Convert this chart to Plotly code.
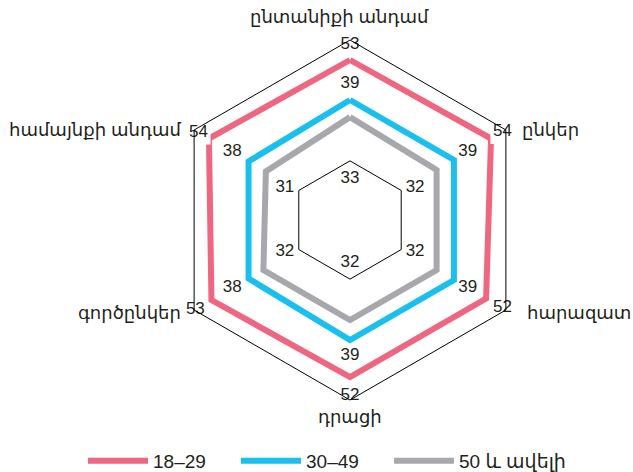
import math
import plotly.graph_objects as go

categories = ["ընտանիքի անդամ", "ընկեր", "հարազատ", "դրացի", "գործընկեր", "համայնքի անդամ"]
series_names = ["18–29", "30–49", "50 և ավելի"]
values_18_29 = [53, 54, 52, 52, 53, 54]
values_30_49 = [39, 39, 39, 39, 38, 38]
values_50_plus = [33, 32, 32, 32, 32, 31]

colors = ["#EF6680", "#19BFEF", "#A7A8AB"]
FONT = "Liberation Sans, Arial, DejaVu Sans, sans-serif"
TXT = "#231F20"

W, H = 633, 472
cx, cy, R = 350, 220, 180
RMIN, RMAX = -3, 60

def close(v):
    return list(v) + [v[0]]

fig = go.Figure()
legend_widths = [78, 78, 110]
for name, vals, col, lw in zip(series_names, [values_18_29, values_30_49, values_50_plus], colors, legend_widths):
    fig.add_trace(go.Scatterpolar(
        r=close(vals), theta=close(categories), mode="lines", name=name,
        line=dict(color=col, width=6), hoverinfo="skip", legendwidth=lw))

# value labels
pink_r = [58.2, 58.6, 58.6, 58.6, 59.5, 58.2]
fig.add_trace(go.Scatterpolar(
    r=pink_r, theta=categories, mode="markers+text",
    text=[str(v) for v in values_18_29], textposition="middle center",
    marker=dict(symbol="square", color="white", size=24, line=dict(width=0)),
    textfont=dict(size=17, color=TXT, family=FONT), showlegend=False, hoverinfo="skip"))
blue_r = 44.6
fig.add_trace(go.Scatterpolar(
    r=[blue_r] * 6, theta=categories, mode="text",
    text=[str(v) for v in values_30_49], textposition="middle center",
    textfont=dict(size=17, color=TXT, family=FONT), showlegend=False, hoverinfo="skip"))
gray_r = [11.6, 19.5, 19.5, 11.9, 19.5, 19.5]
gray_pos = ["middle center", "middle right", "middle right", "middle center", "middle left", "middle left"]
fig.add_trace(go.Scatterpolar(
    r=gray_r, theta=categories, mode="text",
    text=[str(v) for v in values_50_plus], textposition=gray_pos,
    textfont=dict(size=17, color=TXT, family=FONT), showlegend=False, hoverinfo="skip"))

# category labels placed next to the polygon vertices
label_gap = [(-11, -23), (14, 0), (19, 3), (0, 17), (-11, 3), (-11, 0)]
anchors = [("center", "middle"), ("left", "middle"), ("left", "middle"),
           ("center", "middle"), ("right", "middle"), ("right", "middle")]
annotations = []
for i, cat in enumerate(categories):
    ang = math.radians(90 - 60 * i)
    vx = cx + R * math.cos(ang)
    vy = cy - R * math.sin(ang)
    dx, dy = label_gap[i]
    xa, ya = anchors[i]
    annotations.append(dict(
        text=cat, x=(vx + dx) / W, y=1 - (vy + dy) / H, xref="paper", yref="paper",
        xanchor=xa, yanchor=ya, showarrow=False, font=dict(size=18, color=TXT, family=FONT)))

fig.update_layout(
    width=W, height=H,
    margin=dict(l=0, r=0, t=0, b=0, autoexpand=False),
    paper_bgcolor="white", plot_bgcolor="white",
    font=dict(family=FONT, color=TXT, size=18),
    annotations=annotations,
    polar=dict(
        domain=dict(x=[(cx - R) / W, (cx + R) / W], y=[(H - cy - R) / H, (H - cy + R) / H]),
        bgcolor="white",
        gridshape="linear",
        angularaxis=dict(rotation=90, direction="clockwise", showline=True, linecolor="black",
                         linewidth=1, showgrid=False, ticks="", showticklabels=False),
        radialaxis=dict(range=[RMIN, RMAX], showline=False, showticklabels=False, ticks="",
                        tickvals=[17.7], showgrid=True, gridcolor="black", gridwidth=1),
    ),
    legend=dict(orientation="h", x=83 / W, xanchor="left", y=1 - 461 / H, yanchor="middle",
                font=dict(size=19, color=TXT), itemwidth=60, entrywidth=78,
                traceorder="normal"),
    showlegend=True,
)

post = ("document.documentElement.style.margin='0';"
        "document.documentElement.style.overflow='hidden';"
        "document.body.style.margin='0';"
        "document.body.style.overflow='hidden';")
fig.write_html("out.html", config={"displayModeBar": False}, post_script=post)
